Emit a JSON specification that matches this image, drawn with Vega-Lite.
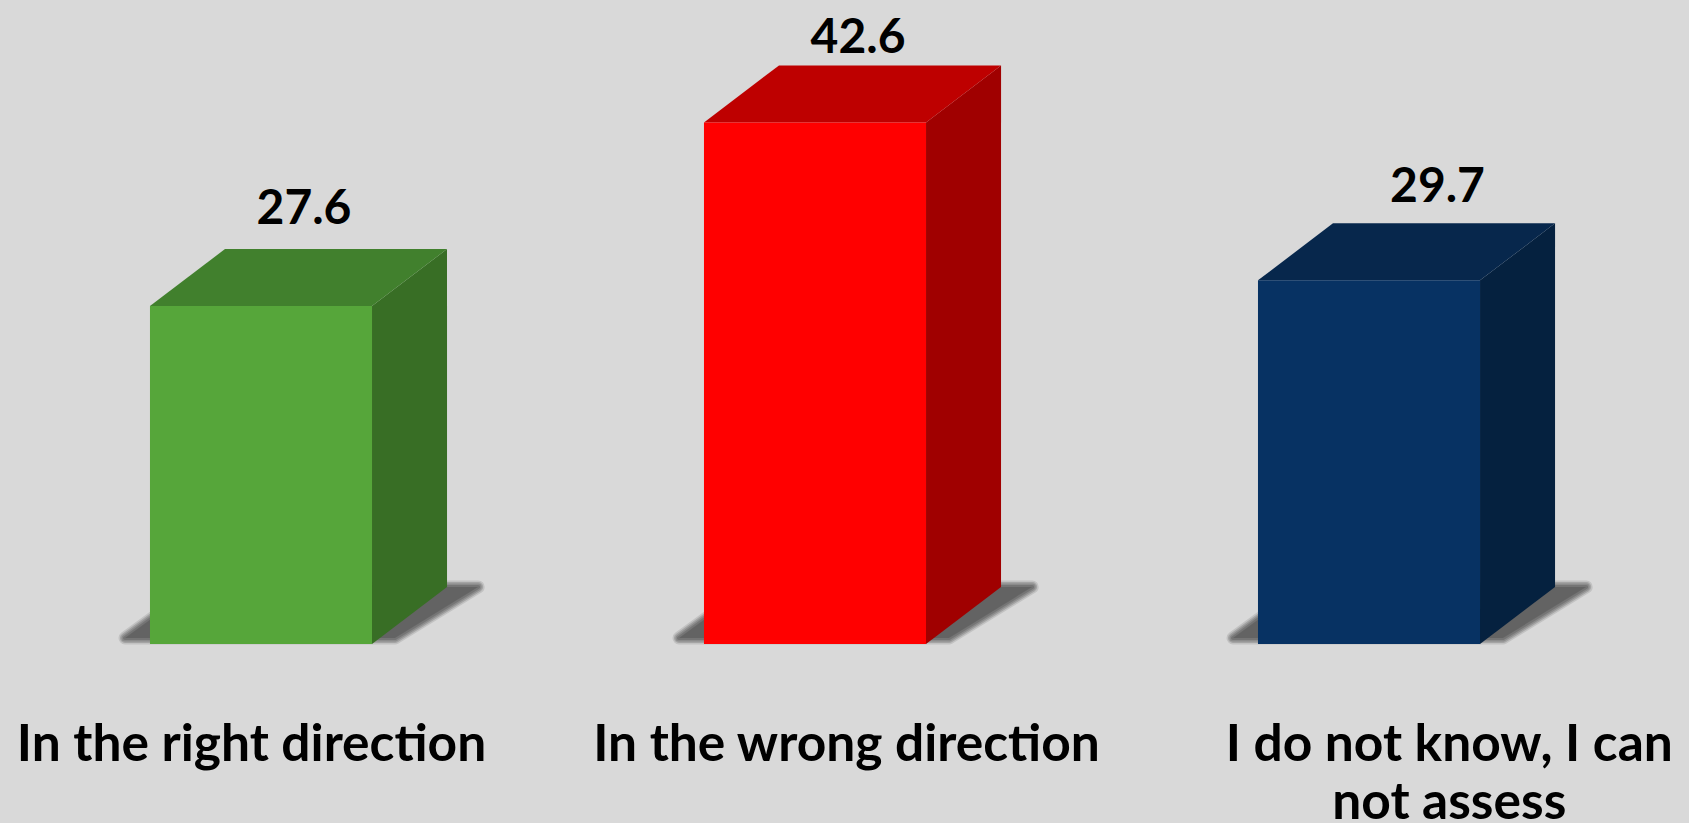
{
"$schema":"https://vega.github.io/schema/vega-lite/v6.json",
"width":1689,"height":644,
"autosize":{"type":"none"},
"padding":{"left":0,"top":0,"right":0,"bottom":179},
"background":"#D9D9D9",
"view":{"stroke":null},
"data":{"values":[
{"label":"In the right direction","idx":0,"value":27.6},
{"label":"In the wrong direction","idx":1,"value":42.6},
{"label":"I do not know, I can not assess","idx":2,"value":29.7}
]},
"encoding":{
"x":{"field":"xp","type":"quantitative","scale":{"domain":[-0.4711,2.5776],"nice":false,"zero":false},
"axis":{"title":null,"values":[-0.018,1.056,2.144],"labelExpr":"datum.value < 0.5 ? 'In the right direction' : datum.value < 1.5 ? 'In the wrong direction' : ['I do not know, I can','not assess']","domain":false,"ticks":false,"grid":false,"labelFont":"Lato","labelFontWeight":"bold","labelFontSize":51.5,"labelLimit":1000,"labelColor":"#000000","labelBaseline":"alphabetic","labelPadding":116,"labelLineHeight":58,"labelOverlap":false,"labelBound":false,"labelFlush":false,"labelAngle":0,"labelAlign":"center"}},
"y":{"field":"yp","type":"quantitative","scale":{"domain":[0,52.6],"nice":false,"zero":false},"axis":null}
},
"layer":[
{"transform":[
{"calculate":"[-0.2455,-0.1191,0.2419,0.392]","as":"dx"},
{"calculate":"[0.49,0.49,0.49,4.66]","as":"low"},
{"calculate":"[0.49,4.66,4.66,4.66]","as":"yp"},
{"flatten":["dx","low","yp"]},
{"calculate":"datum.idx+datum.dx","as":"xp"}],
"mark":{"type":"area","orient":"vertical","fill":"#000000","stroke":"#000000","strokeWidth":13,"strokeJoin":"round","opacity":0.1},
"encoding":{"y2":{"field":"low"},"detail":{"field":"idx"}}},
{"transform":[
{"calculate":"[-0.2455,-0.1191,0.2419,0.392]","as":"dx"},
{"calculate":"[0.49,0.49,0.49,4.66]","as":"low"},
{"calculate":"[0.49,4.66,4.66,4.66]","as":"yp"},
{"flatten":["dx","low","yp"]},
{"calculate":"datum.idx+datum.dx","as":"xp"}],
"mark":{"type":"area","orient":"vertical","fill":"#000000","stroke":"#000000","strokeWidth":10,"strokeJoin":"round","opacity":0.15},
"encoding":{"y2":{"field":"low"},"detail":{"field":"idx"}}},
{"transform":[
{"calculate":"[-0.2455,-0.1191,0.2419,0.392]","as":"dx"},
{"calculate":"[0.49,0.49,0.49,4.66]","as":"low"},
{"calculate":"[0.49,4.66,4.66,4.66]","as":"yp"},
{"flatten":["dx","low","yp"]},
{"calculate":"datum.idx+datum.dx","as":"xp"}],
"mark":{"type":"area","orient":"vertical","fill":"#000000","stroke":"#000000","strokeWidth":7,"strokeJoin":"round","opacity":0.15},
"encoding":{"y2":{"field":"low"},"detail":{"field":"idx"}}},
{"transform":[
{"calculate":"[-0.2455,-0.1191,0.2419,0.392]","as":"dx"},
{"calculate":"[0.49,0.49,0.49,4.66]","as":"low"},
{"calculate":"[0.49,4.66,4.66,4.66]","as":"yp"},
{"flatten":["dx","low","yp"]},
{"calculate":"datum.idx+datum.dx","as":"xp"}],
"mark":{"type":"area","orient":"vertical","fill":"#000000","stroke":"#000000","strokeWidth":4,"strokeJoin":"round","opacity":0.15},
"encoding":{"y2":{"field":"low"},"detail":{"field":"idx"}}},
{"transform":[
{"calculate":"[-0.2455,-0.1191,0.2419,0.392]","as":"dx"},
{"calculate":"[0.49,0.49,0.49,4.66]","as":"low"},
{"calculate":"[0.49,4.66,4.66,4.66]","as":"yp"},
{"flatten":["dx","low","yp"]},
{"calculate":"datum.idx+datum.dx","as":"xp"}],
"mark":{"type":"area","orient":"vertical","fill":"#000000","opacity":0.15},
"encoding":{"y2":{"field":"low"},"detail":{"field":"idx"}}},
{"transform":[
{"calculate":"[0.2004,0.3358]","as":"dx"},
{"calculate":"[0,4.66]","as":"r"},
{"flatten":["dx","r"]},
{"calculate":"datum.idx+datum.dx","as":"xp"},
{"calculate":"datum.r","as":"yp"},
{"calculate":"datum.value+datum.r","as":"yt"}],
"mark":{"type":"area","orient":"vertical"},
"encoding":{"y2":{"field":"yt"},"detail":{"field":"idx"},
"color":{"field":"label","type":"nominal","legend":null,"scale":{"domain":["In the right direction","In the wrong direction","I do not know, I can not assess"],"range":["#386E25","#A00000","#05213F"]}}}},
{"transform":[
{"calculate":"[-0.2004,-0.065,0.2004,0.3358]","as":"dx"},
{"calculate":"[0,0,0,4.66]","as":"lo"},
{"calculate":"[0,4.66,4.66,4.66]","as":"up"},
{"flatten":["dx","lo","up"]},
{"calculate":"datum.idx+datum.dx","as":"xp"},
{"calculate":"datum.value+datum.up","as":"yp"},
{"calculate":"datum.value+datum.lo","as":"yl"}],
"mark":{"type":"area","orient":"vertical"},
"encoding":{"y2":{"field":"yl"},"detail":{"field":"idx"},
"color":{"field":"label","type":"nominal","legend":null,"scale":{"domain":["In the right direction","In the wrong direction","I do not know, I can not assess"],"range":["#41802D","#BE0000","#07274C"]}}}},
{"transform":[
{"calculate":"datum.idx-0.2004","as":"xp"},
{"calculate":"datum.idx+0.2004","as":"xe"},
{"calculate":"datum.value","as":"yp"}],
"mark":{"type":"rect"},
"encoding":{"x2":{"field":"xe"},"y2":{"datum":0},
"color":{"field":"label","type":"nominal","legend":null,"scale":{"domain":["In the right direction","In the wrong direction","I do not know, I can not assess"],"range":["#56A63A","#FF0000","#073263"]}}}},
{"transform":[
{"calculate":"datum.idx+(datum.idx==2?0.046:0)","as":"xp"},
{"calculate":"datum.value+4.66-(datum.idx==1?1.0:datum.idx==2?0.26:0)","as":"yp"}],
"mark":{"type":"text","font":"Lato","fontWeight":"bold","fontSize":48,"color":"#000000","align":"center","baseline":"alphabetic","dx":43,"dy":-25},
"encoding":{"text":{"field":"value","type":"quantitative","format":".1f"}}}
],
"resolve":{"scale":{"color":"independent"}}
}
